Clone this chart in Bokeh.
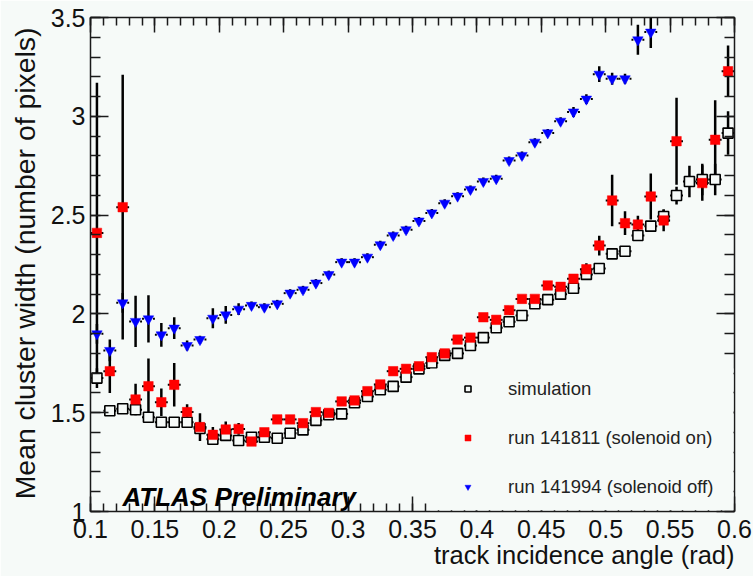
from bokeh.plotting import figure
from bokeh.models import (ColumnDataSource, LinearAxis, FixedTicker, CustomJSTickFormatter,
                          BoxAnnotation, Legend, LegendItem, Label, Range1d, Title)
from bokeh.embed import file_html
from bokeh.resources import INLINE

nan = float("nan")

# ---------------- data ----------------
angle = [0.105, 0.115, 0.125, 0.135, 0.145, 0.155, 0.165, 0.175, 0.185, 0.195,
         0.205, 0.215, 0.225, 0.235, 0.245, 0.255, 0.265, 0.275, 0.285, 0.295,
         0.305, 0.315, 0.325, 0.335, 0.345, 0.355, 0.365, 0.375, 0.385, 0.395,
         0.405, 0.415, 0.425, 0.435, 0.445, 0.455, 0.465, 0.475, 0.485, 0.495,
         0.505, 0.515, 0.525, 0.535, 0.545, 0.555, 0.565, 0.575, 0.585, 0.595]
bin_half_width = 0.005

sim_width = [1.675, 1.51, 1.52, 1.515, 1.477, 1.452, 1.452, 1.452, 1.42, 1.366,
             1.385, 1.359, 1.376, 1.376, 1.371, 1.396, 1.413, 1.461, 1.49, 1.494,
             1.55, 1.582, 1.616, 1.633, 1.68, 1.722, 1.751, 1.79, 1.80, 1.84,
             1.88, 1.93, 1.96, 1.992, 2.051, 2.072, 2.10, 2.13, 2.20, 2.23,
             2.304, 2.317, 2.397, 2.444, 2.493, 2.599, 2.67, 2.68, 2.68, 2.915]
sim_err = [0.05, 0.015, 0.015, 0.015, 0.012, 0.01, 0.01, 0.01, 0.01, 0.01,
           0.01, 0.01, 0.01, 0.01, 0.01, 0.01, 0.01, 0.01, 0.01, 0.01,
           0.01, 0.01, 0.01, 0.01, 0.01, 0.01, 0.01, 0.01, 0.01, 0.01,
           0.01, 0.01, 0.01, 0.01, 0.01, 0.01, 0.01, 0.01, 0.01, 0.01,
           0.01, 0.01, 0.015, 0.02, 0.035, 0.045, 0.08, 0.08, 0.08, 0.11]

run141811_width = [2.41, 1.71, 2.54, 1.567, 1.634, 1.553, 1.641, 1.503, 1.427, 1.388,
                   1.415, 1.418, 1.354, 1.401, 1.466, 1.466, 1.447, 1.503, 1.499, 1.557,
                   1.562, 1.609, 1.643, 1.71, 1.722, 1.735, 1.781, 1.80, 1.87, 1.88,
                   1.983, 1.97, 2.019, 2.076, 2.076, 2.144, 2.137, 2.178, 2.226, 2.346,
                   2.574, 2.459, 2.452, 2.594, 2.473, 2.874, nan, 2.662, 2.881, 3.228]
run141811_err = [0.76, 0.11, 0.67, 0.08, 0.14, 0.07, 0.11, 0.04, 0.07, 0.04,
                 0.04, 0.03, 0.015, 0.015, 0.015, 0.015, 0.015, 0.015, 0.015, 0.015,
                 0.015, 0.015, 0.015, 0.015, 0.015, 0.015, 0.015, 0.015, 0.015, 0.015,
                 0.015, 0.015, 0.015, 0.015, 0.015, 0.015, 0.02, 0.02, 0.03, 0.05,
                 0.13, 0.06, 0.045, 0.116, 0.055, 0.22, nan, 0.09, 0.2, 0.13]

run141994_width = [1.899, 1.815, 2.056, 1.962, 1.975, 1.894, 1.928, 1.840, 1.870, 1.978,
                   1.995, 2.024, 2.043, 2.034, 2.051, 2.105, 2.122, 2.156, 2.199, 2.262,
                   2.262, 2.287, 2.350, 2.397, 2.426, 2.470, 2.511, 2.560, 2.596, 2.630,
                   2.670, 2.684, 2.776, 2.802, 2.869, 2.916, 2.975, 3.022, 3.087, 3.213,
                   3.190, 3.190, 3.387, 3.426, nan, nan, nan, nan, nan, nan]
run141994_err = [0.05, 0.055, 0.05, 0.13, 0.12, 0.06, 0.055, 0.025, 0.02, 0.05,
                 0.045, 0.03, 0.02, 0.02, 0.02, 0.02, 0.02, 0.02, 0.02, 0.02,
                 0.02, 0.02, 0.02, 0.02, 0.02, 0.02, 0.02, 0.02, 0.02, 0.02,
                 0.02, 0.02, 0.02, 0.02, 0.02, 0.02, 0.02, 0.025, 0.025, 0.04,
                 0.03, 0.025, 0.076, 0.08, nan, nan, nan, nan, nan, nan]

x_major_ticks = [0.1, 0.15, 0.2, 0.25, 0.3, 0.35, 0.4, 0.45, 0.5, 0.55, 0.6]
x_minor_ticks = [round(0.1 + 0.01 * i, 2) for i in range(51)]
y_major_ticks = [1, 1.5, 2, 2.5, 3, 3.5]
y_minor_ticks = [round(1 + 0.1 * i, 1) for i in range(26)]

series_labels = ["simulation", "run 141811 (solenoid on)", "run 141994 (solenoid off)"]
x_title = "track incidence angle (rad)"
y_title = "Mean cluster width (number of pixels)"
tag = "ATLAS Preliminary"

# ---------------- style ----------------
BG = "#f6faf8"
INK = "#1a1a1a"
FONT = "Liberation Sans"
marker_gap = 0.0035


def make_source(y, err):
    return ColumnDataSource(dict(
        x=angle, y=y,
        lo=[v - e for v, e in zip(y, err)],
        hi=[v + e for v, e in zip(y, err)],
        left=[a - bin_half_width for a in angle],
        right=[a + bin_half_width for a in angle],
        gl=[a - marker_gap for a in angle],
        gr=[a + marker_gap for a in angle],
    ))


src_sim = make_source(sim_width, sim_err)
src_on = make_source(run141811_width, run141811_err)
src_off = make_source(run141994_width, run141994_err)

p = figure(width=753, height=576, output_backend="svg", toolbar_location=None,
           x_range=Range1d(0.1, 0.6), y_range=Range1d(1, 3.5),
           x_axis_location=None, y_axis_location=None,
           min_border_left=90, min_border_right=19, min_border_top=17, min_border_bottom=65,
           background_fill_color=BG, border_fill_color=BG)
p.grid.visible = False
p.outline_line_color = None


def make_axis(major, minor, major_len, minor_len, labelled, standoff=5):
    if labelled:
        fmt = CustomJSTickFormatter(code="return String(parseFloat(tick.toFixed(3)));")
        size = "25px"
    else:
        fmt = CustomJSTickFormatter(code="return '';")
        size, standoff = "1px", 0
    return LinearAxis(
        ticker=FixedTicker(ticks=major, minor_ticks=minor), formatter=fmt,
        major_tick_in=major_len, major_tick_out=0, minor_tick_in=minor_len, minor_tick_out=0,
        axis_line_color=INK, axis_line_width=1.5,
        major_tick_line_color=INK, major_tick_line_width=1.5,
        minor_tick_line_color=INK, minor_tick_line_width=1.5,
        major_label_text_font=FONT, major_label_text_font_size=size,
        major_label_text_color="#111111", major_label_standoff=standoff)


p.add_layout(make_axis(x_major_ticks, x_minor_ticks, 15, 8, True, standoff=8), "below")
p.add_layout(make_axis(x_major_ticks, x_minor_ticks, 15, 8, False), "above")
p.add_layout(make_axis(y_major_ticks, y_minor_ticks, 18, 10, True, standoff=5), "left")
p.add_layout(make_axis(y_major_ticks, y_minor_ticks, 18, 10, False), "right")

p.add_layout(Title(text=x_title, align="right", vertical_align="top",
                   text_font=FONT, text_font_style="normal", text_font_size="25.5px",
                   text_color="#111111", standoff=0), "below")
p.add_layout(Title(text=y_title, align="right", vertical_align="top",
                   text_font=FONT, text_font_style="normal", text_font_size="28.4px",
                   text_color="#111111", standoff=10, offset=10), "left")

# error bars
for src in (src_sim, src_on):
    p.segment("x", "lo", "x", "hi", source=src, line_color="black", line_width=2.5)
    p.segment("left", "y", "right", "y", source=src, line_color="black", line_width=2)
p.segment("x", "lo", "x", "hi", source=src_off, line_color="black", line_width=2.5)
p.segment("left", "y", "gl", "y", source=src_off, line_color="black", line_width=2)
p.segment("gr", "y", "right", "y", source=src_off, line_color="black", line_width=2)

# markers
r_sim = p.scatter("x", "y", source=src_sim, marker="square", size=10,
                  fill_color=BG, line_color="black", line_width=1.6)
r_on = p.scatter("x", "y", source=src_on, marker="square", size=9.5,
                 fill_color="#ff0000", line_color="#ff0000", line_width=0.5)
r_off = p.scatter("x", "y", source=src_off, marker="inverted_triangle", size=10.5,
                  fill_color="#0000ff", line_color="#0000ff", line_width=0.5)

# legend pad (covers the axis ticks like the ROOT legend box)
pad = BoxAnnotation(left=0.3637, right=0.5992, bottom=1.006, top=1.724,
                    fill_color=BG, fill_alpha=1.0, line_color=None, level="overlay")
p.add_layout(pad)

legend = Legend(items=[LegendItem(label=series_labels[0], renderers=[r_sim]),
                       LegendItem(label=series_labels[1], renderers=[r_on]),
                       LegendItem(label=series_labels[2], renderers=[r_off])],
                location=(370, 12), orientation="vertical",
                background_fill_alpha=0, border_line_color=None,
                glyph_width=15, glyph_height=25, label_height=25, spacing=24,
                padding=0, margin=0, label_standoff=33,
                label_text_font=FONT, label_text_font_size="18.5px",
                label_text_color="#222222", level="overlay")
p.add_layout(legend)

p.add_layout(Label(x=0.1248, y=1.075, text=tag, text_font=FONT,
                   text_font_style="bold italic", text_font_size="26px",
                   text_color="black", text_baseline="alphabetic"))

open("out.html", "w").write(file_html(p, INLINE))
